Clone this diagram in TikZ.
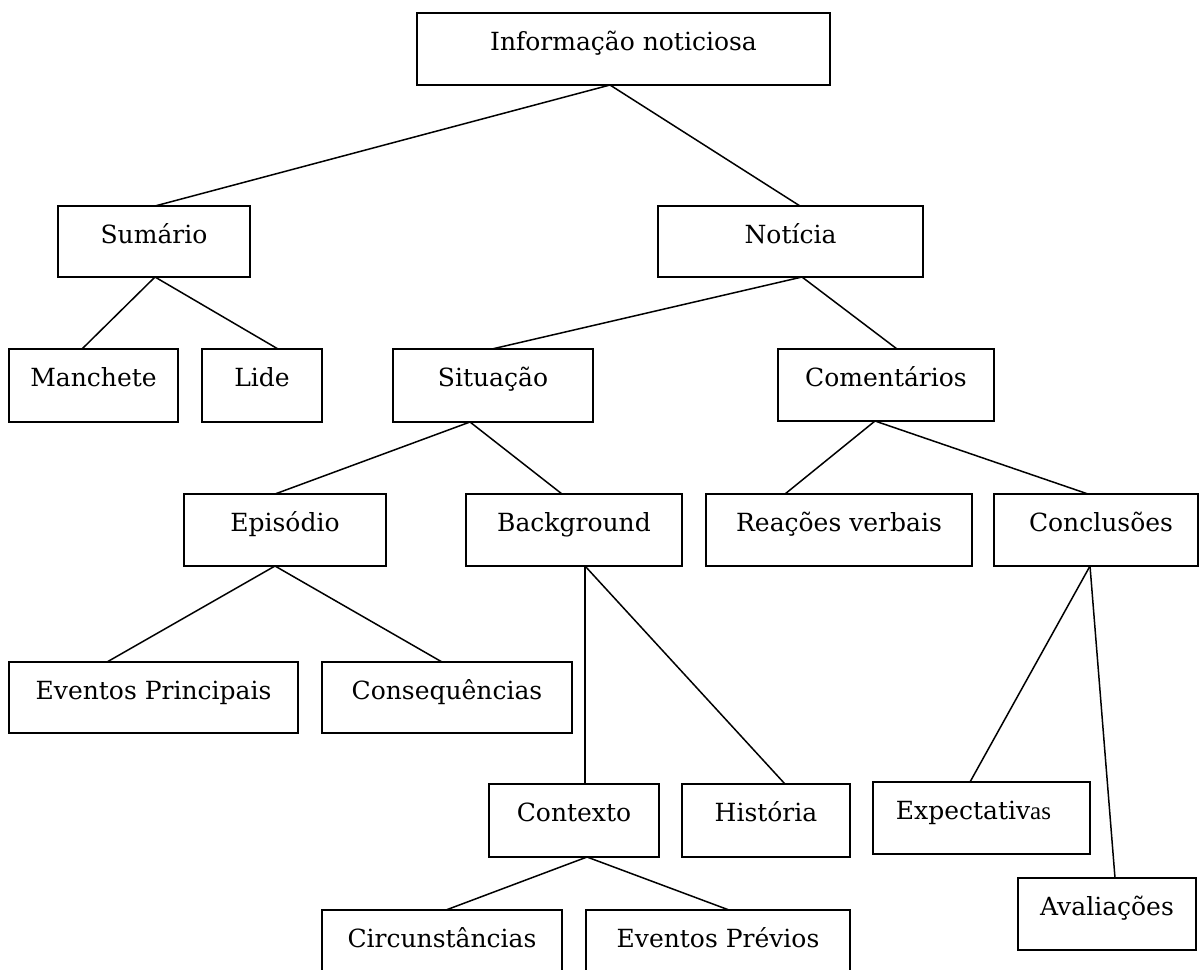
\documentclass[tikz,border=0pt]{standalone}
\usepackage{fontspec}
\setmainfont{DejaVu Serif}
\newfontfamily\altserif{Liberation Serif}
\begin{document}
\begin{tikzpicture}[x=1pt,y=-1pt,
  boxst/.style={draw=black,line width=1.8pt,fill=white,inner sep=0pt,outer sep=0pt},
  lbl/.style={anchor=base,inner sep=0pt,font=\fontsize{25}{30}\selectfont},
  conn/.style={draw=black,line width=1.5pt}]
\useasboundingbox (0,0) rectangle (1201,969);
\clip (0,0) rectangle (1201,969);
\newcommand\bx[7]{%
  \node[boxst,anchor=north west,minimum width={(#4-#2)*1pt},minimum height={(#5-#3)*1pt}] (#1) at (#2,#3) {};
  \node[lbl] (#1-t) at ([xshift=#7pt,yshift=-37pt]#1.north) {#6};}
\newcommand\lnk[4]{\draw[conn] ([xshift=#2pt]#1.south) -- ([xshift=#4pt]#3.north);}
% boxes: name, L, T, R, B, text, text x-offset
\bx{info}{417}{13}{830}{85}{Informação noticiosa}{0}
\bx{sumario}{58}{206}{250}{277}{Sumário}{0}
\bx{noticia}{658}{206}{923}{277}{Notícia}{0}
\bx{manchete}{9}{349}{178}{422}{Manchete}{0}
\bx{lide}{202}{349}{322}{422}{Lide}{0}
\bx{situacao}{393}{349}{593}{422}{Situação}{0}
\bx{comentarios}{778}{349}{994}{421}{Comentários}{0}
\bx{episodio}{184}{494}{386}{566}{Episódio}{0}
\bx{background}{466}{494}{682}{566}{Background}{0}
\bx{reacoes}{706}{494}{972}{566}{Reações verbais}{0}
\bx{conclusoes}{994}{494}{1198}{566}{Conclusões}{5}
\bx{evprincipais}{9}{662}{298}{733}{Eventos Principais}{0}
\bx{consequencias}{322}{662}{572}{733}{Consequências}{0}
\bx{contexto}{489}{784}{659}{857}{Contexto}{0}
\bx{historia}{682}{784}{850}{857}{História}{0}
\bx{expectativas}{873}{782}{1090}{854}{Expectativ{\altserif as}}{-8}
\bx{avaliacoes}{1018}{878}{1196}{950}{Avaliações}{0}
\bx{circunstancias}{322}{910}{562}{990}{Circunstâncias}{0}
\bx{evprevios}{586}{910}{850}{990}{Eventos Prévios}{0}
% connectors
\lnk{info}{-13.5}{sumario}{1}
\lnk{info}{-13.5}{noticia}{9.5}
\lnk{sumario}{1}{manchete}{-11.5}
\lnk{sumario}{1}{lide}{16}
\lnk{noticia}{11.5}{situacao}{-1}
\lnk{noticia}{11.5}{comentarios}{11}
\lnk{situacao}{-23}{episodio}{-10}
\lnk{situacao}{-23}{background}{-12}
\lnk{comentarios}{-11}{reacoes}{-54}
\lnk{comentarios}{-11}{conclusoes}{-8}
\lnk{episodio}{-10}{evprincipais}{-46.5}
\lnk{episodio}{-10}{consequencias}{-5}
\lnk{background}{11}{contexto}{11}
\lnk{background}{11}{historia}{19}
\lnk{conclusoes}{-6}{expectativas}{-11.5}
\lnk{conclusoes}{-6}{avaliacoes}{8}
\lnk{contexto}{13}{circunstancias}{4}
\lnk{contexto}{13}{evprevios}{11}
\end{tikzpicture}
\end{document}
